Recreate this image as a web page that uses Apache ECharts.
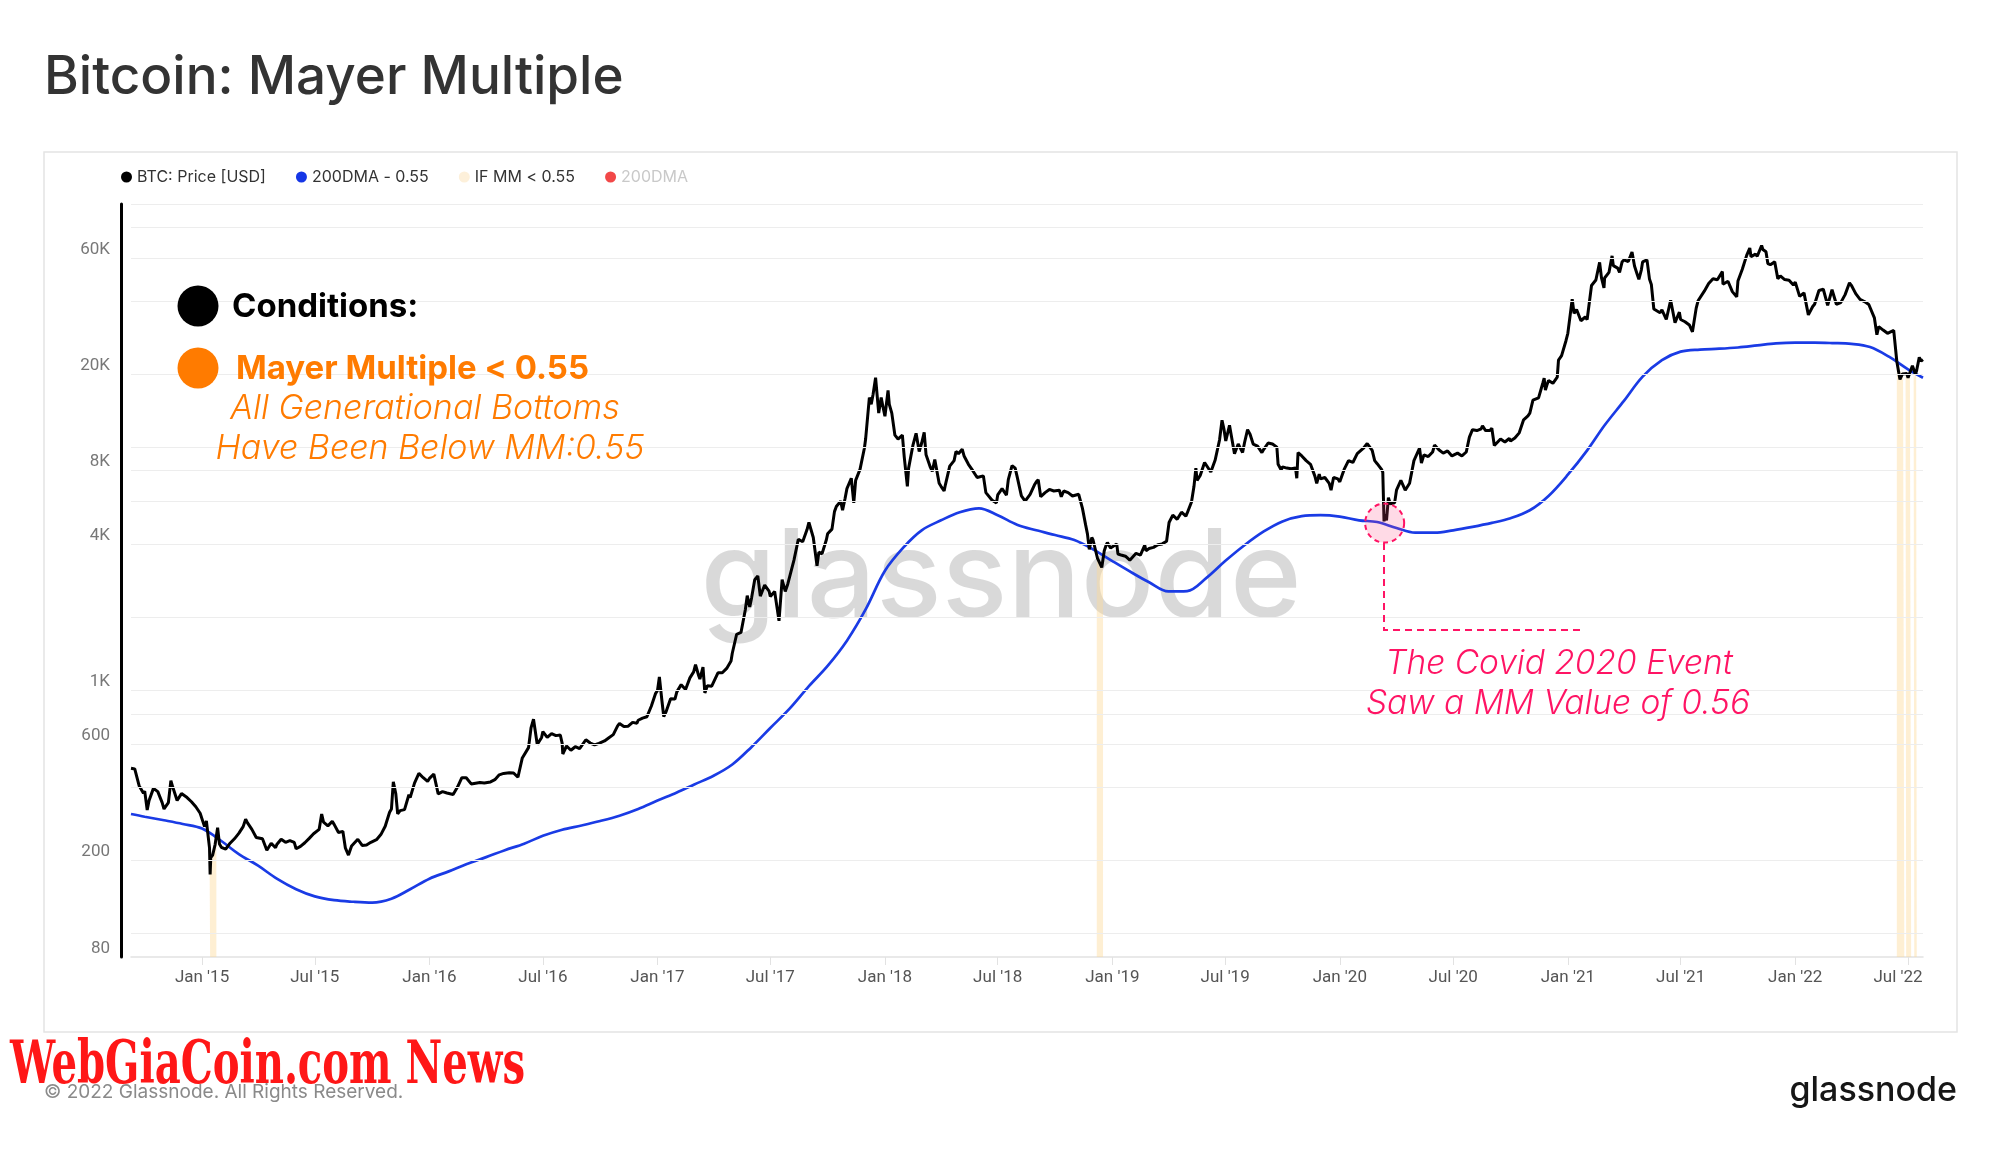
<!DOCTYPE html>
<html><head><meta charset="utf-8">
<script src="https://cdn.jsdelivr.net/npm/echarts@6/dist/echarts.min.js"></script>
<style>html,body{margin:0;padding:0;background:#fff}#c{width:2000px;height:1152px}</style>
</head><body><div id="c"></div>
<script>
// ---------------- DATA ----------------
const priceData = [
['2014-09-09',478],['2014-09-15',475],['2014-09-22',405],['2014-09-29',377],
['2014-10-01',385],['2014-10-05',322],['2014-10-08',352],['2014-10-15',395],['2014-10-22',383],['2014-10-29',345],
['2014-11-01',325],['2014-11-08',345],['2014-11-12',425],['2014-11-15',400],['2014-11-22',352],['2014-11-29',376],
['2014-12-01',378],['2014-12-08',362],['2014-12-15',348],['2014-12-22',332],['2014-12-29',312],
['2015-01-01',315],['2015-01-05',275],['2015-01-08',290],['2015-01-13',225],['2015-01-14',175],['2015-01-15',205],['2015-01-18',210],['2015-01-22',232],['2015-01-26',272],['2015-01-29',233],
['2015-02-01',226],['2015-02-08',222],['2015-02-15',235],['2015-02-22',245],
['2015-03-01',258],['2015-03-08',275],['2015-03-12',295],['2015-03-15',285],['2015-03-22',268],['2015-03-29',248],
['2015-04-01',247],['2015-04-08',245],['2015-04-15',220],['2015-04-22',235],['2015-04-29',225],
['2015-05-01',232],['2015-05-08',244],['2015-05-15',237],['2015-05-22',241],['2015-05-29',237],
['2015-06-01',223],['2015-06-08',228],['2015-06-15',236],['2015-06-22',246],['2015-06-29',257],
['2015-07-01',258],['2015-07-08',268],['2015-07-12',310],['2015-07-15',287],['2015-07-22',277],['2015-07-29',289],
['2015-08-01',281],['2015-08-08',260],['2015-08-15',263],['2015-08-19',225],['2015-08-24',210],['2015-08-29',229],
['2015-09-01',228],['2015-09-08',244],['2015-09-15',230],['2015-09-22',231],['2015-09-29',237],
['2015-10-01',238],['2015-10-08',243],['2015-10-15',255],['2015-10-22',276],['2015-10-29',315],
['2015-11-01',325],['2015-11-04',420],['2015-11-08',375],['2015-11-11',310],['2015-11-15',320],['2015-11-22',323],['2015-11-29',372],
['2015-12-01',362],['2015-12-08',415],['2015-12-15',455],['2015-12-18',460],['2015-12-22',437],['2015-12-29',422],
['2016-01-01',434],['2016-01-08',452],['2016-01-15',375],['2016-01-22',383],['2016-01-29',378],
['2016-02-01',372],['2016-02-08',373],['2016-02-15',400],['2016-02-22',437],['2016-02-29',437],
['2016-03-01',433],['2016-03-08',412],['2016-03-15',415],['2016-03-22',418],['2016-03-29',416],
['2016-04-01',417],['2016-04-08',420],['2016-04-15',429],['2016-04-22',449],['2016-04-29',455],
['2016-05-01',448],['2016-05-08',458],['2016-05-15',457],['2016-05-22',439],['2016-05-29',527],
['2016-06-01',536],['2016-06-08',581],['2016-06-12',700],['2016-06-16',760],['2016-06-22',598],['2016-06-29',640],
['2016-07-01',676],['2016-07-08',640],['2016-07-15',664],['2016-07-22',651],['2016-07-29',655],
['2016-08-01',605],['2016-08-02',547],['2016-08-08',590],['2016-08-15',567],['2016-08-22',586],['2016-08-29',575],
['2016-09-01',572],['2016-09-08',626],['2016-09-15',607],['2016-09-22',596],['2016-09-29',605],
['2016-10-01',613],['2016-10-08',619],['2016-10-15',638],['2016-10-22',657],['2016-10-29',714],
['2016-11-01',730],['2016-11-08',710],['2016-11-15',712],['2016-11-22',738],['2016-11-29',732],
['2016-12-01',753],['2016-12-08',768],['2016-12-15',778],['2016-12-22',860],['2016-12-29',972],
['2017-01-01',998],['2017-01-04',1135],['2017-01-08',910],['2017-01-11',780],['2017-01-15',820],['2017-01-22',922],['2017-01-29',920],
['2017-02-01',985],['2017-02-08',1055],['2017-02-15',1008],['2017-02-22',1125],['2017-02-28',1190],
['2017-03-03',1275],['2017-03-08',1150],['2017-03-10',1112],['2017-03-15',1245],['2017-03-18',975],['2017-03-22',1045],['2017-03-29',1040],
['2017-04-01',1080],['2017-04-08',1180],['2017-04-15',1180],['2017-04-22',1230],['2017-04-29',1320],
['2017-05-01',1420],['2017-05-08',1700],['2017-05-15',1730],['2017-05-22',2150],['2017-05-25',2450],['2017-05-29',2200],
['2017-06-01',2400],['2017-06-06',2850],['2017-06-11',2950],['2017-06-15',2440],['2017-06-22',2710],['2017-06-29',2560],
['2017-07-01',2430],['2017-07-08',2550],['2017-07-15',1930],['2017-07-20',2850],['2017-07-25',2550],['2017-07-29',2730],
['2017-08-01',2720],['2017-08-08',3430],['2017-08-15',4180],['2017-08-22',4080],['2017-08-29',4580],
['2017-09-01',4900],['2017-09-08',4250],['2017-09-14',3250],['2017-09-17',3700],['2017-09-22',3640],['2017-09-29',4160],
['2017-10-01',4400],['2017-10-08',4600],['2017-10-12',5430],['2017-10-15',5700],['2017-10-22',6000],['2017-10-25',5500],['2017-10-29',6150],
['2017-11-01',6750],['2017-11-08',7450],['2017-11-12',5900],['2017-11-15',7300],['2017-11-22',8100],['2017-11-29',9900],
['2017-12-01',10800],['2017-12-07',16000],['2017-12-10',15000],['2017-12-13',16500],['2017-12-17',19300],['2017-12-22',13800],['2017-12-26',16000],['2017-12-29',14600],
['2018-01-01',13400],['2018-01-06',17100],['2018-01-08',15000],['2018-01-12',13800],['2018-01-17',11200],['2018-01-22',10800],['2018-01-29',11200],
['2018-02-01',9100],['2018-02-06',6900],['2018-02-08',8200],['2018-02-15',10200],['2018-02-20',11400],['2018-02-25',9600],
['2018-03-01',10400],['2018-03-05',11500],['2018-03-08',9300],['2018-03-15',8250],['2018-03-18',7950],['2018-03-22',8900],['2018-03-29',7100],
['2018-04-01',6900],['2018-04-06',6600],['2018-04-08',7000],['2018-04-15',8350],['2018-04-22',8800],['2018-04-25',9600],['2018-04-29',9400],
['2018-05-05',9800],['2018-05-08',9200],['2018-05-15',8500],['2018-05-22',8000],['2018-05-29',7500],
['2018-06-01',7500],['2018-06-08',7620],['2018-06-12',6500],['2018-06-15',6450],['2018-06-22',6050],['2018-06-29',5900],
['2018-07-01',6360],['2018-07-08',6750],['2018-07-15',6350],['2018-07-18',7350],['2018-07-24',8400],['2018-07-29',8200],
['2018-08-01',7600],['2018-08-08',6300],['2018-08-14',6000],['2018-08-22',6400],['2018-08-29',7000],
['2018-09-01',7200],['2018-09-04',7350],['2018-09-08',6250],['2018-09-15',6500],['2018-09-22',6700],['2018-09-29',6600],
['2018-10-01',6600],['2018-10-08',6650],['2018-10-11',6250],['2018-10-15',6600],['2018-10-22',6500],['2018-10-29',6300],
['2018-11-01',6350],['2018-11-08',6400],['2018-11-14',5600],['2018-11-19',4800],['2018-11-22',4400],['2018-11-25',3800],['2018-11-29',4250],
['2018-12-01',4150],['2018-12-08',3500],['2018-12-15',3200],['2018-12-19',3750],['2018-12-22',3950],['2018-12-24',4050],['2018-12-29',3850],
['2019-01-01',3850],['2019-01-08',4000],['2019-01-10',3630],['2019-01-15',3600],['2019-01-22',3560],['2019-01-29',3430],
['2019-02-01',3480],['2019-02-08',3660],['2019-02-15',3600],['2019-02-22',3950],['2019-02-24',3750],
['2019-03-01',3830],['2019-03-08',3870],['2019-03-15',3970],['2019-03-22',4000],['2019-03-29',4100],
['2019-04-02',4900],['2019-04-08',5250],['2019-04-15',5050],['2019-04-22',5400],['2019-04-29',5200],
['2019-05-01',5350],['2019-05-08',5950],['2019-05-12',6900],['2019-05-15',8200],['2019-05-17',7300],['2019-05-22',7650],['2019-05-29',8650],
['2019-06-01',8550],['2019-06-08',7900],['2019-06-15',8850],['2019-06-22',10700],['2019-06-26',12900],['2019-06-29',11900],
['2019-07-02',10600],['2019-07-08',12300],['2019-07-10',12100],['2019-07-16',9400],['2019-07-22',10300],['2019-07-29',9500],
['2019-08-01',10400],['2019-08-06',11800],['2019-08-10',11300],['2019-08-15',10300],['2019-08-22',10100],['2019-08-29',9500],
['2019-09-01',9800],['2019-09-08',10400],['2019-09-15',10300],['2019-09-22',10000],['2019-09-24',8500],['2019-09-29',8050],
['2019-10-01',8300],['2019-10-08',8200],['2019-10-15',8150],['2019-10-22',8200],['2019-10-24',7450],['2019-10-26',9500],['2019-10-29',9400],
['2019-11-01',9200],['2019-11-08',8800],['2019-11-15',8500],['2019-11-22',7600],['2019-11-25',7100],['2019-11-29',7750],
['2019-12-01',7400],['2019-12-08',7500],['2019-12-15',7100],['2019-12-18',6650],['2019-12-22',7500],['2019-12-29',7400],
['2020-01-01',7200],['2020-01-08',8100],['2020-01-15',8800],['2020-01-22',8650],['2020-01-29',9400],
['2020-02-01',9350],['2020-02-08',9900],['2020-02-14',10350],['2020-02-22',9700],['2020-02-26',8800],
['2020-03-01',8550],['2020-03-08',8100],['2020-03-10',7900],['2020-03-12',4950],['2020-03-13',5300],['2020-03-16',5000],['2020-03-19',6200],['2020-03-22',5850],['2020-03-29',5900],
['2020-04-01',6650],['2020-04-08',7300],['2020-04-15',6650],['2020-04-22',7100],['2020-04-29',8800],
['2020-05-01',8800],['2020-05-08',9900],['2020-05-11',8600],['2020-05-15',9300],['2020-05-22',9150],['2020-05-29',9550],
['2020-06-01',10200],['2020-06-08',9750],['2020-06-15',9450],['2020-06-22',9650],['2020-06-29',9200],
['2020-07-01',9250],['2020-07-08',9450],['2020-07-15',9200],['2020-07-22',9550],['2020-07-27',11000],
['2020-08-01',11800],['2020-08-08',11700],['2020-08-15',11900],['2020-08-17',12250],['2020-08-22',11700],['2020-08-29',11700],
['2020-09-01',11950],['2020-09-05',10150],['2020-09-08',10100],['2020-09-15',10800],['2020-09-22',10500],['2020-09-29',10850],
['2020-10-01',10600],['2020-10-08',10900],['2020-10-15',11450],['2020-10-22',12950],['2020-10-29',13450],
['2020-11-01',13800],['2020-11-06',15600],['2020-11-08',15500],['2020-11-15',15950],['2020-11-22',18400],['2020-11-24',19200],['2020-11-26',17150],['2020-11-29',18200],
['2020-12-01',18800],['2020-12-08',18300],['2020-12-15',19400],['2020-12-17',22800],['2020-12-22',23800],['2020-12-29',27400],
['2021-01-01',29400],['2021-01-08',40600],['2021-01-11',35500],['2021-01-15',36800],['2021-01-22',33100],['2021-01-29',34300],
['2021-02-01',33500],['2021-02-08',46200],['2021-02-15',48700],['2021-02-21',57500],['2021-02-24',49700],['2021-02-28',45200],
['2021-03-01',49600],['2021-03-08',52300],['2021-03-13',61200],['2021-03-15',55800],['2021-03-22',54500],['2021-03-25',52300],['2021-03-29',57700],
['2021-04-01',58900],['2021-04-08',58000],['2021-04-14',63500],['2021-04-18',55600],['2021-04-22',51700],['2021-04-25',49000],['2021-04-29',53600],
['2021-05-01',57800],['2021-05-08',58900],['2021-05-12',49200],['2021-05-15',46700],['2021-05-19',37000],['2021-05-22',37500],['2021-05-29',35700],
['2021-06-01',36700],['2021-06-08',33500],['2021-06-15',40200],['2021-06-22',32500],['2021-06-29',35900],
['2021-07-01',33500],['2021-07-08',32800],['2021-07-15',31800],['2021-07-20',29800],['2021-07-26',37300],['2021-07-29',40000],
['2021-08-01',39800],['2021-08-08',43800],['2021-08-15',47100],['2021-08-22',49300],['2021-08-29',48800],
['2021-09-01',48800],['2021-09-06',52700],['2021-09-07',46800],['2021-09-15',48100],['2021-09-22',43600],['2021-09-29',41500],
['2021-10-01',48200],['2021-10-08',53900],['2021-10-15',61500],['2021-10-20',65900],['2021-10-22',60700],['2021-10-29',62200],
['2021-11-01',61000],['2021-11-08',67500],['2021-11-10',65000],['2021-11-15',63600],['2021-11-18',56900],['2021-11-22',56300],['2021-11-29',57800],
['2021-12-01',57000],['2021-12-04',49300],['2021-12-08',50600],['2021-12-15',48900],['2021-12-22',48600],['2021-12-29',46400],
['2022-01-01',47700],['2022-01-08',41700],['2022-01-15',43100],['2022-01-22',35000],['2022-01-29',37900],
['2022-02-01',38700],['2022-02-08',44100],['2022-02-15',44600],['2022-02-22',38300],['2022-02-24',38300],
['2022-03-01',44400],['2022-03-08',38700],['2022-03-15',39300],['2022-03-22',42400],['2022-03-29',47400],
['2022-04-01',46300],['2022-04-08',42800],['2022-04-15',40500],['2022-04-22',39700],['2022-04-29',38600],
['2022-05-01',38500],['2022-05-08',34000],['2022-05-12',29000],['2022-05-15',31300],['2022-05-22',30300],['2022-05-29',29400],
['2022-06-01',29800],['2022-06-08',30200],['2022-06-13',22500],['2022-06-15',22600],['2022-06-18',19000],['2022-06-22',20000],['2022-06-29',20100],
['2022-07-01',19300],['2022-07-08',21600],['2022-07-13',19900],['2022-07-15',20800],['2022-07-19',23400],['2022-07-22',22600],['2022-07-25',22900]
];

const dma055Data = [
['2014-09-09',310],['2014-10-01',302],['2014-11-01',292],['2014-12-01',282],
['2015-01-01',270],['2015-02-01',240],['2015-03-01',212],['2015-04-01',190],['2015-05-01',168],['2015-06-01',152],
['2015-07-01',142],['2015-08-01',137],['2015-09-01',135],['2015-10-01',134],['2015-11-01',139],['2015-12-01',152],
['2016-01-01',168],['2016-02-01',180],['2016-03-01',193],['2016-04-01',206],['2016-05-01',220],['2016-06-01',234],
['2016-07-01',252],['2016-08-01',267],['2016-09-01',278],['2016-10-01',290],['2016-11-01',305],['2016-12-01',325],
['2017-01-01',352],['2017-02-01',380],['2017-03-01',410],['2017-04-01',445],['2017-05-01',495],['2017-06-01',585],
['2017-07-01',700],['2017-08-01',840],['2017-09-01',1040],['2017-10-01',1260],['2017-11-01',1600],['2017-12-01',2150],
['2018-01-01',3100],['2018-02-01',3900],['2018-03-01',4550],['2018-04-01',5000],['2018-05-01',5400],['2018-06-01',5600],
['2018-07-01',5250],['2018-08-01',4800],['2018-09-01',4550],['2018-10-01',4350],['2018-11-01',4150],['2018-12-01',3800],
['2019-01-01',3400],['2019-02-01',3050],['2019-03-01',2780],['2019-04-01',2550],['2019-05-01',2560],['2019-06-01',2900],
['2019-07-01',3400],['2019-08-01',3950],['2019-09-01',4500],['2019-10-01',4950],['2019-11-01',5200],['2019-12-01',5250],
['2020-01-01',5180],['2020-02-01',5000],['2020-03-01',4920],['2020-04-01',4650],['2020-05-01',4450],['2020-06-01',4450],
['2020-07-01',4550],['2020-08-01',4700],['2020-09-01',4880],['2020-10-01',5100],['2020-11-01',5500],['2020-12-01',6300],
['2021-01-01',7700],['2021-02-01',9700],['2021-03-01',12300],['2021-04-01',15500],['2021-05-01',19500],['2021-06-01',22800],
['2021-07-01',24700],['2021-08-01',25200],['2021-09-01',25400],['2021-10-01',25700],['2021-11-01',26200],['2021-12-01',26700],
['2022-01-01',26900],['2022-02-01',26900],['2022-03-01',26800],['2022-04-01',26600],['2022-05-01',25800],['2022-06-01',23500],
['2022-07-01',20900],['2022-07-25',19300]
];

// price on days where Mayer Multiple < 0.55 ('-' = gap)
const mmBandData = [
['2015-01-13',225],['2015-01-14',176],['2015-01-15',207],['2015-01-16',207],['2015-01-17',200],['2015-01-18',211],
['2015-01-19',212],['2015-01-20',211],['2015-01-21',227],['2015-01-22',233],['2015-01-23',233],['2015-01-24',248],['2015-01-25','-'],
['2018-12-07',3400],['2018-12-08',3420],['2018-12-09',3550],['2018-12-10',3450],['2018-12-11',3400],['2018-12-12',3480],
['2018-12-13',3280],['2018-12-14',3220],['2018-12-15',3200],['2018-12-16',3250],['2018-12-17',3530],['2018-12-18','-'],
['2022-06-13',22500],['2022-06-14',22200],['2022-06-15',22600],['2022-06-16',20400],['2022-06-17',20500],['2022-06-18',19000],
['2022-06-19',20600],['2022-06-20',20600],['2022-06-21',20700],['2022-06-22',20000],['2022-06-23',21100],['2022-06-24',21200],
['2022-06-25',21500],['2022-06-26','-'],
['2022-06-27',20700],['2022-06-28',20300],['2022-06-29',20100],['2022-06-30',19900],['2022-07-01',19300],['2022-07-02',19300],
['2022-07-03',19300],['2022-07-04',20200],['2022-07-05',20200],['2022-07-06',20500],['2022-07-07','-'],
['2022-07-10',20800],['2022-07-11',19900],['2022-07-12',19300],['2022-07-13',20200],['2022-07-14',20600],['2022-07-15',20800]
];

const xTickDates = ['2015-01-01','2015-07-01','2016-01-01','2016-07-01','2017-01-01','2017-07-01','2018-01-01','2018-07-01',
  '2019-01-01','2019-07-01','2020-01-01','2020-07-01','2021-01-01','2021-07-01','2022-01-01','2022-07-01'];
const xTickLabels = ["Jan '15","Jul '15","Jan '16","Jul '16","Jan '17","Jul '17","Jan '18","Jul '18",
  "Jan '19","Jul '19","Jan '20","Jul '20","Jan '21","Jul '21","Jan '22","Jul '22"];
const yTickValues = [80, 200, 600, 1000, 4000, 8000, 20000, 60000];
const yTickLabels = ['80','200','600','1K','4K','8K','20K','60K'];
const yGridValues = [100, 200, 400, 600, 800, 1000, 2000, 4000, 6000, 8000, 10000, 20000, 40000, 60000, 80000, 100000];
const xRange = ['2014-09-09', '2022-07-25'];
const yRange = [80, 100000];
const covidPoint = ['2020-03-13', 4870];

// ---------------- CHART ----------------
const ts = s => { const [y, m, d] = s.split('-').map(Number); return Date.UTC(y, m - 1, d); };
const toXY = arr => arr.map(([d, v]) => [ts(d), v]);
const xTickTs = xTickDates.map(ts);
const fitScale = (text, font, target) => {
  const ctx = document.createElement('canvas').getContext('2d');
  ctx.font = font; return target / ctx.measureText(text).width;
};
const wmFont = 'bold 60px "DejaVu Serif Condensed", "DejaVu Serif", serif';
const wmText = 'WebGiaCoin.com News';
const wmScale = fitScale(wmText, wmFont, 515);

const PINK = '#ff1464', ORANGE = '#ff7b00';
const chart = echarts.init(document.getElementById('c'), null, {renderer: 'canvas'});
chart.setOption({
  animation: false,
  backgroundColor: '#ffffff',
  textStyle: {fontFamily: 'Inter, Roboto, sans-serif'},
  grid: {left: 131, right: 77, top: 204, bottom: 195},
  legend: {
    left: 116, top: 164, icon: 'circle', itemWidth: 11, itemHeight: 11, itemGap: 30,
    textStyle: {fontSize: 16, color: '#333', fontFamily: 'Inter'},
    data: ['BTC: Price [USD]', '200DMA - 0.55', 'IF MM < 0.55', {name: '200DMA', textStyle: {color: '#c9c9c9'}}],
    selectedMode: false
  },
  xAxis: {
    type: 'value', min: ts(xRange[0]), max: ts(xRange[1]), scale: true,
    axisLine: {show: true, lineStyle: {color: '#e2e2e2', width: 1.5}},
    axisTick: {show: true, customValues: xTickTs, length: 8, lineStyle: {color: '#e2e2e2'}},
    axisLabel: {customValues: xTickTs, color: '#555', fontSize: 17, fontFamily: 'Roboto', margin: 12,
      rich: {last: {fontSize: 17, fontFamily: 'Roboto', color: '#555', padding: [0, 20, 0, 0]}},
      formatter: v => {
        const i = xTickTs.findIndex(t => Math.abs(t - v) < 3600000);
        if (i < 0) return '';
        return i === xTickLabels.length - 1 ? '{last|' + xTickLabels[i] + '}' : xTickLabels[i];
      }},
    splitLine: {show: false}
  },
  yAxis: {
    type: 'log', min: yRange[0], max: yRange[1], offset: 10,
    axisLine: {show: true, lineStyle: {color: '#000', width: 3}},
    axisTick: {show: false},
    axisLabel: {customValues: yTickValues, color: '#777', fontSize: 17, margin: 11, verticalAlign: 'bottom', fontFamily: 'Roboto',
      formatter: v => { const i = yTickValues.findIndex(t => Math.abs(t - v) / t < 1e-6); return i >= 0 ? yTickLabels[i] : ''; }},
    splitLine: {show: false}
  },
  series: [
    {
      name: 'IF MM < 0.55', type: 'line', data: toXY(mmBandData), symbol: 'none', z: 1,
      connectNulls: false,
      itemStyle: {color: '#fdf0da'},
      lineStyle: {width: 0},
      areaStyle: {color: 'rgba(252, 218, 155, 0.62)', origin: 'start'},
      markLine: {
        silent: true, symbol: 'none', animation: false,
        label: {show: false},
        lineStyle: {color: '#ededed', width: 1, type: 'solid'},
        data: yGridValues.map(v => ({yAxis: v}))
      }
    },
    {
      name: '200DMA - 0.55', type: 'line', data: toXY(dma055Data), symbol: 'none', smooth: 0.35, z: 3,
      itemStyle: {color: '#1536e6'}, lineStyle: {color: '#1a3be5', width: 2.7}
    },
    {
      name: 'BTC: Price [USD]', type: 'line', data: toXY(priceData), symbol: 'none', z: 4,
      itemStyle: {color: '#000'}, lineStyle: {color: '#000', width: 3},
      markPoint: {
        silent: true, symbol: 'circle', symbolSize: 39,
        label: {show: false},
        itemStyle: {color: 'rgba(255, 70, 130, 0.2)', borderColor: PINK, borderWidth: 2, borderType: [5, 4]},
        data: [{coord: [ts(covidPoint[0]), covidPoint[1]]}]
      }
    },
    {name: '200DMA', type: 'line', data: [], symbol: 'none', itemStyle: {color: '#f24848'}}
  ],
  graphic: [
    {type: 'rect', z: -10, silent: true, shape: {x: 44, y: 152, width: 1913, height: 880},
      style: {fill: 'none', stroke: '#e4e4e4', lineWidth: 1.5}},
    {type: 'text', x: 44, y: 78, silent: true,
      style: {text: 'Bitcoin: Mayer Multiple', font: '500 53px Inter', fill: '#333', verticalAlign: 'middle'}},
    {type: 'text', x: 1001, y: 580, z: 0, silent: true,
      style: {text: 'glassnode', font: '500 122px Inter', fill: 'rgba(0,0,0,0.15)', align: 'center', verticalAlign: 'middle'}},
    {type: 'circle', z: 10, shape: {cx: 198, cy: 306, r: 20.5}, style: {fill: '#000'}},
    {type: 'text', z: 10, x: 232, y: 307,
      style: {text: 'Conditions:', font: 'bold 33px Inter', fill: '#000', verticalAlign: 'middle'}},
    {type: 'circle', z: 10, shape: {cx: 198, cy: 368, r: 20.5}, style: {fill: ORANGE}},
    {type: 'text', z: 10, x: 236, y: 369,
      style: {text: 'Mayer Multiple < 0.55', font: 'bold 33px Inter', fill: ORANGE, verticalAlign: 'middle'}},
    {type: 'text', z: 10, x: 425, y: 409,
      style: {text: 'All Generational Bottoms', font: 'italic 300 34px Inter', fill: ORANGE, align: 'center', verticalAlign: 'middle'}},
    {type: 'text', z: 10, x: 430, y: 449,
      style: {text: 'Have Been Below MM:0.55', font: 'italic 300 34px Inter', fill: ORANGE, align: 'center', verticalAlign: 'middle'}},
    {type: 'polyline', z: 10, silent: true, shape: {points: [[1384, 543], [1384, 630], [1583, 630]]},
      style: {stroke: PINK, lineWidth: 2, lineDash: [7, 5], fill: 'none'}},
    {type: 'text', z: 10, x: 1559, y: 664,
      style: {text: 'The Covid 2020 Event', font: 'italic 300 33.5px Inter', fill: PINK, align: 'center', verticalAlign: 'middle'}},
    {type: 'text', z: 10, x: 1558, y: 704,
      style: {text: 'Saw a MM Value of 0.56', font: 'italic 300 33.5px Inter', fill: PINK, align: 'center', verticalAlign: 'middle'}},
    {type: 'text', z: 10, x: 44, y: 1092,
      style: {text: '\u00A9 2022 Glassnode. All Rights Reserved.', font: '19px Inter', fill: '#8a8a8a', verticalAlign: 'middle'}},
    {type: 'text', z: 11, x: 10, y: 1067, scaleX: wmScale,
      style: {text: wmText, font: wmFont, fill: '#ff1717', verticalAlign: 'middle'}},
    {type: 'text', z: 10, x: 1957, y: 1091,
      style: {text: 'glassnode', font: '500 34px Inter', fill: '#161616', align: 'right', verticalAlign: 'middle'}}
  ]
});
</script></body></html>
